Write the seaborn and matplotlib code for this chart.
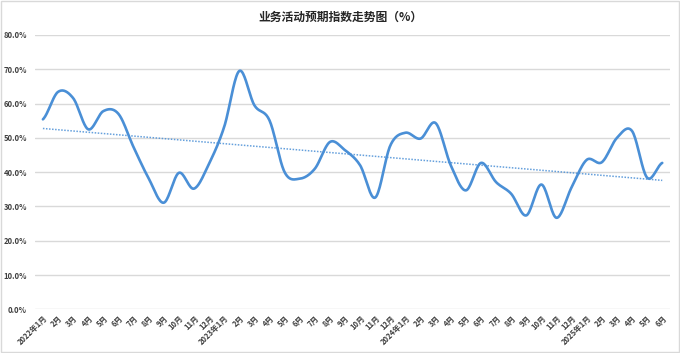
import numpy as np
import pandas as pd
import seaborn as sns
import matplotlib.pyplot as plt
from matplotlib.patches import Rectangle

# 月份标签 (2022年1月 - 2025年6月)
months = []
for year in [2022, 2023, 2024, 2025]:
    for m in range(1, 13):
        if year == 2025 and m > 6:
            break
        months.append(f"{year}年{m}月" if m == 1 else f"{m}月")

# 业务活动预期指数 (%)
values = [55.4, 63.4, 61.6, 52.5, 57.8, 57.0, 47.3, 38.2, 31.1, 39.8, 35.2, 42.5,
          53.2, 69.5, 59.5, 55.1, 40.0, 38.1, 41.0, 48.8, 46.4, 42.0, 32.6, 47.8,
          51.5, 49.8, 54.3, 42.0, 34.7, 42.7, 37.1, 33.7, 27.4, 36.4, 26.7, 35.6,
          43.6, 42.9, 50.0, 52.0, 38.4, 42.7]

y_ticks = [0, 10, 20, 30, 40, 50, 60, 70, 80]

line_color = "#4A8FD6"
grid_color = "#D9D9D9"

df = pd.DataFrame({"idx": np.arange(len(values)), "value": values})

# 平滑曲线 (类似 Excel 的平滑线, Catmull-Rom)
def smooth_curve(x, y, n=20):
    x = np.asarray(x, float)
    y = np.asarray(y, float)
    px = np.concatenate([[2 * x[0] - x[1]], x, [2 * x[-1] - x[-2]]])
    py = np.concatenate([[y[0]], y, [y[-1]]])
    xs, ys = [], []
    for i in range(1, len(px) - 2):
        t = np.linspace(0, 1, n, endpoint=False)
        for p, out in ((px, xs), (py, ys)):
            p0, p1, p2, p3 = p[i - 1], p[i], p[i + 1], p[i + 2]
            out.extend(0.5 * ((2 * p1) + (-p0 + p2) * t
                              + (2 * p0 - 5 * p1 + 4 * p2 - p3) * t ** 2
                              + (-p0 + 3 * p1 - 3 * p2 + p3) * t ** 3))
    xs.append(x[-1])
    ys.append(y[-1])
    return pd.DataFrame({"idx": xs, "value": ys})

smooth_df = smooth_curve(df["idx"], df["value"])

# 线性趋势线
k, b = np.polyfit(df["idx"], df["value"], 1)
trend_df = pd.DataFrame({"idx": df["idx"], "value": k * df["idx"] + b})

sns.set_theme(style="white")
plt.rcParams['font.family'] = ['Noto Sans CJK SC', 'DejaVu Sans']

fig = plt.figure(figsize=(6.8, 3.53), dpi=100)
ax = fig.add_axes([0.052, 0.1235, 0.933, 0.7775])

sns.lineplot(data=smooth_df, x="idx", y="value", ax=ax, color=line_color,
             linewidth=1.9, sort=False, estimator=None)
sns.lineplot(data=trend_df, x="idx", y="value", ax=ax, color=line_color,
             linewidth=1.1, linestyle=(0, (1, 1)), alpha=0.85)

ax.set_xlim(-0.5, len(values) - 0.5)
ax.set_ylim(0, 80)
ax.set_yticks(y_ticks)
ax.set_yticklabels([f"{v:.1f}%" for v in y_ticks], fontsize=5.5, fontweight="bold",
                   color="#404040")
ax.set_xticks(df["idx"])
ax.set_xticklabels(months, rotation=45, ha="right", va="top", fontsize=5.5,
                   fontweight="bold", color="#404040", rotation_mode="anchor")
ax.tick_params(axis="both", length=0, pad=3)
ax.tick_params(axis="y", pad=6)
ax.yaxis.grid(True, color=grid_color, linewidth=1)
ax.set_axisbelow(True)
for s in ax.spines.values():
    s.set_visible(False)
ax.set_xlabel("")
ax.set_ylabel("")

fig.text(0.5, 0.952, "业务活动预期指数走势图（%）", ha="center", va="center",
         fontsize=8.5, fontweight="bold", color="#262626")

fig.patches.append(Rectangle((0.002, 0.003), 0.996, 0.994, transform=fig.transFigure,
                             fill=False, edgecolor="#D9D9D9", linewidth=1))

fig.savefig("out.png", dpi=100)
